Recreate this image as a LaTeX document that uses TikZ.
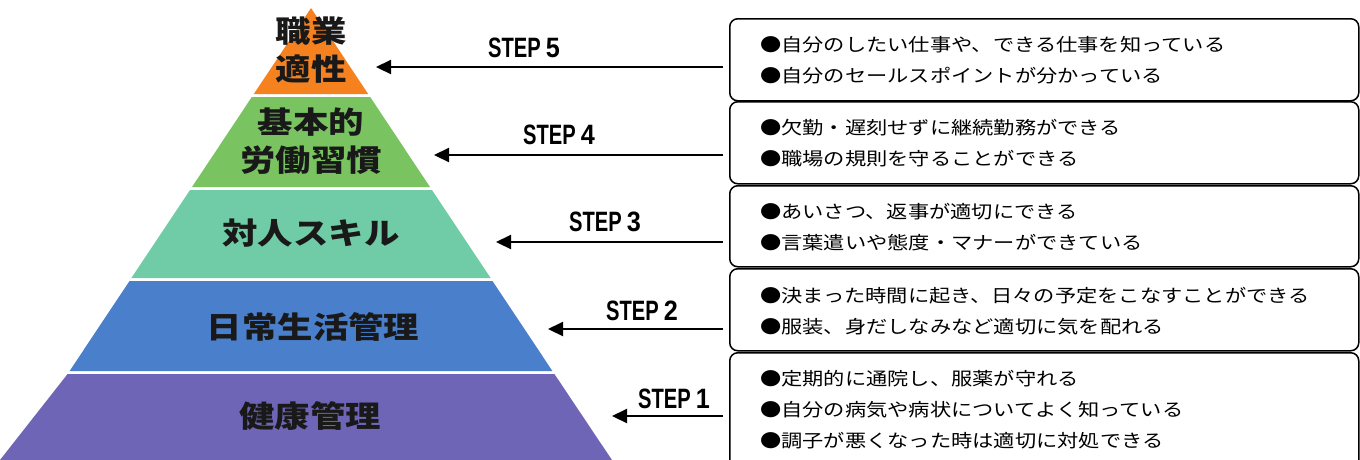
\documentclass[tikz,border=0pt]{standalone}
\usepackage{fontspec}
\setmainfont{Liberation Sans}
\newfontfamily\jp{Noto Sans CJK JP}
\usetikzlibrary{arrows.meta}
\definecolor{lvorange}{RGB}{245,130,31}
\definecolor{lvgreen}{RGB}{121,196,96}
\definecolor{lvteal}{RGB}{111,204,166}
\definecolor{lvblue}{RGB}{74,127,204}
\definecolor{lvpurple}{RGB}{110,101,183}
\newcommand\sx[1]{\scalebox{1.18}[1]{#1}}
\newcommand\steptxt[1]{\scalebox{0.72}[1]{\fontsize{28}{28}\selectfont\bfseries STEP}\hspace{5pt}\scalebox{0.9}[1]{\fontsize{28}{28}\selectfont\bfseries #1}}
\tikzset{
  lab/.style={font=\jp\bfseries\fontsize{30}{38}\selectfont, align=center, inner sep=0pt, text=black!90},
  steplab/.style={inner sep=0pt},
  infobox/.style={draw=black, line width=1.5pt, rounded corners=8pt, minimum width=629pt, anchor=north west, inner sep=0pt},
  arr/.style={line width=2.2pt, -{Triangle[length=15pt,width=14pt]}},
  itemtxt/.style={font=\jp\fontsize{18}{18}\selectfont, anchor=west, inner sep=0pt}
}
\begin{document}
\begin{tikzpicture}[x=1pt,y=-1pt]
\useasboundingbox (0,0) rectangle (1360,459);
\begin{scope}
\clip (0,0) rectangle (1360,459);
% pyramid layers (half-width = 0.665*(y-8), centre x=311)
\fill[lvorange] (311,8) -- (368.2,94) -- (253.8,94) -- cycle;
\fill[lvgreen] (251.8,97) -- (370.2,97) -- (430,187) -- (192,187) -- cycle;
\fill[lvteal] (190,190) -- (432,190) -- (490.6,278) -- (131.4,278) -- cycle;
\fill[lvblue] (129.5,281) -- (492.5,281) -- (552.4,371) -- (69.6,371) -- cycle;
\fill[lvpurple] (67.6,374) -- (554.4,374) -- (622,475) -- (0,475) -- (0,460) -- cycle;
% info boxes
\node[infobox, minimum height=82pt] (b5) at (729,18) {};
\node[infobox, minimum height=82pt] (b4) at (729,101) {};
\node[infobox, minimum height=81pt] (b3) at (729,185) {};
\node[infobox, minimum height=82pt] (b2) at (729,268) {};
\node[infobox, minimum height=120pt] (b1) at (729,352) {};
\end{scope}
% layer labels
\node[lab] (l5) at (311,50.5) {\sx{職業}\\\sx{適性}};
\node[lab] (l4) at (311,141.5) {\sx{基本的}\\\sx{労働習慣}};
\node[lab] (l3) at (311,233) {\sx{対人スキル}};
\node[lab] (l2) at (313,326.5) {\sx{日常生活管理}};
\node[lab] (l1) at (310,416) {\sx{健康管理}};
% box texts
\node[itemtxt] (t5a) at (760,45) {\sx{●自分のしたい仕事や、できる仕事を知っている}};
\node[itemtxt] (t5b) at (760,76) {\sx{●自分のセールスポイントが分かっている}};
\node[itemtxt] (t4a) at (760,128) {\sx{●欠勤・遅刻せずに継続勤務ができる}};
\node[itemtxt] (t4b) at (760,159) {\sx{●職場の規則を守ることができる}};
\node[itemtxt] (t3a) at (760,212) {\sx{●あいさつ、返事が適切にできる}};
\node[itemtxt] (t3b) at (760,243) {\sx{●言葉遣いや態度・マナーができている}};
\node[itemtxt] (t2a) at (760,296) {\sx{●決まった時間に起き、日々の予定をこなすことができる}};
\node[itemtxt] (t2b) at (760,327) {\sx{●服装、身だしなみなど適切に気を配れる}};
\node[itemtxt] (t1a) at (760,379) {\sx{●定期的に通院し、服薬が守れる}};
\node[itemtxt] (t1b) at (760,410) {\sx{●自分の病気や病状についてよく知っている}};
\node[itemtxt] (t1c) at (760,441) {\sx{●調子が悪くなった時は適切に対処できる}};
% arrows
\coordinate (p5) at (376,67);
\coordinate (p4) at (434,155);
\coordinate (p3) at (496,242);
\coordinate (p2) at (548,329);
\coordinate (p1) at (612,416);
\path (b5.west |- p5) coordinate (s5);
\path (b4.west |- p4) coordinate (s4);
\path (b3.west |- p3) coordinate (s3);
\path (b2.west |- p2) coordinate (s2);
\path (b1.west |- p1) coordinate (s1);
\draw[arr] ([xshift=-6pt]s5) -- (p5);
\draw[arr] ([xshift=-6pt]s4) -- (p4);
\draw[arr] ([xshift=-6pt]s3) -- (p3);
\draw[arr] ([xshift=-6pt]s2) -- (p2);
\draw[arr] ([xshift=-6pt]s1) -- (p1);
% step labels
\node[steplab] (st5) at (524,47.5) {\steptxt{5}};
\node[steplab] (st4) at (559,135) {\steptxt{4}};
\node[steplab] (st3) at (605,222) {\steptxt{3}};
\node[steplab] (st2) at (642,311) {\steptxt{2}};
\node[steplab] (st1) at (674,399) {\steptxt{1}};
\end{tikzpicture}
\end{document}
